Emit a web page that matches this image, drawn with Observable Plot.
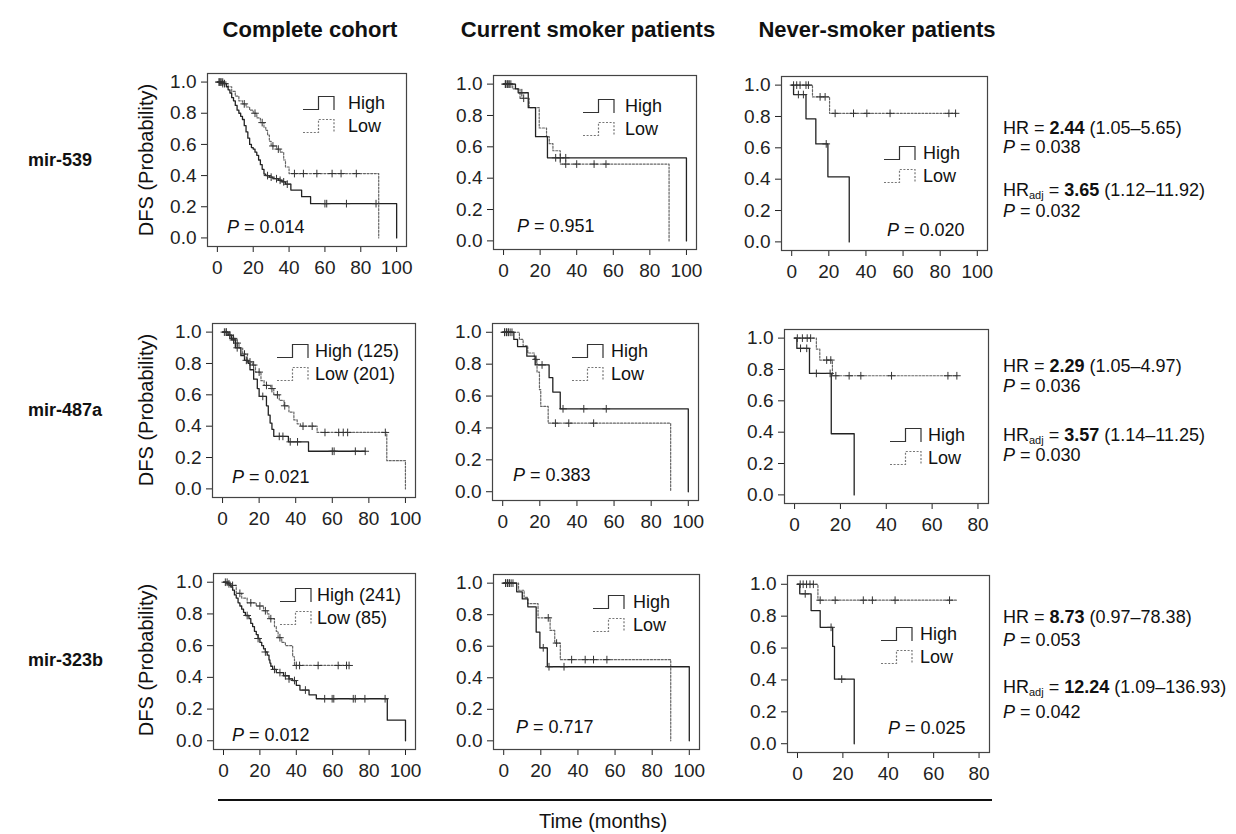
<!DOCTYPE html>
<html><head><meta charset="utf-8">
<script src="https://cdn.jsdelivr.net/npm/d3@7"></script>
<script src="https://cdn.jsdelivr.net/npm/@observablehq/plot@0.6"></script>
<style>
body{margin:0;background:#fff;font-family:"Liberation Sans",Arial,sans-serif;color:#111}
#root{position:relative;width:1236px;height:834px;overflow:hidden;background:#fff}
.abs{position:absolute;white-space:nowrap;line-height:1}
.vc{transform:translateY(-50%)}
.title{font-weight:bold;font-size:22px;transform:translate(-50%,-50%)}
.rowlab{font-weight:bold;font-size:18px}
.ylab{font-size:20px;transform:translate(-50%,-50%) rotate(-90deg)}
.xlab{font-size:20px;transform:translate(-50%,-50%)}
.ptext{font-size:18px}
.stat{font-size:18px}
.stat sub{font-size:11px;vertical-align:baseline;position:relative;top:3px;line-height:0}
.leg{font-size:18px}
</style></head><body><div id="root"></div>
<script>
// ---------- labels ----------
const columnTitles = ["Complete cohort", "Current smoker patients", "Never-smoker patients"];
const rowLabels = ["mir-539", "mir-487a", "mir-323b"];
const yTicks = [0, 0.2, 0.4, 0.6, 0.8, 1.0];
const xTicks100 = [0, 20, 40, 60, 80, 100];
const xTicks80 = [0, 20, 40, 60, 80];
const pValues = [["0.014", "0.951", "0.020"], ["0.021", "0.383", null], ["0.012", "0.717", "0.025"]];
const legendHigh = [["High", "High", "High"], ["High (125)", "High", "High"], ["High (241)", "High", "High"]];
const legendLow = [["Low", "Low", "Low"], ["Low (201)", "Low", "Low"], ["Low (85)", "Low", "Low"]];
const hrValue = ["2.44", "2.29", "8.73"];
const hrCI = ["(1.05–5.65)", "(1.05–4.97)", "(0.97–78.38)"];
const hrP = ["0.038", "0.036", "0.053"];
const hrAdjValue = ["3.65", "3.57", "12.24"];
const hrAdjCI = ["(1.12–11.92)", "(1.14–11.25)", "(1.09–136.93)"];
const hrAdjP = ["0.032", "0.030", "0.042"];

// ---------- Kaplan–Meier curves: [time (months), DFS] step points ----------
// mir-539
const m539AllHigh = [[0,1],[3,0.99],[5,0.97],[6,0.95],[7,0.93],[8,0.9],[9,0.88],[10,0.85],[11,0.82],[12,0.8],[13,0.78],[14,0.76],[15,0.72],[16,0.68],[17,0.64],[18,0.6],[19,0.58],[20,0.57],[21,0.55],[22,0.53],[23,0.5],[24,0.47],[25,0.44],[26,0.41],[27,0.4],[29,0.39],[31,0.38],[34,0.37],[36,0.36],[38,0.345],[41,0.307],[47,0.265],[52,0.22],[100,0]];
const m539AllHighCens = [1,2,3,4,28,30,33,35,37,39,60,61,72,88.5];
const m539AllLow = [[0,1],[4,0.99],[6,0.97],[8,0.94],[10,0.91],[12,0.88],[14,0.86],[16,0.84],[18,0.82],[20,0.8],[22,0.77],[24,0.74],[26,0.71],[27,0.69],[28,0.66],[29,0.62],[30,0.59],[33,0.57],[35,0.55],[37,0.5],[38,0.455],[40,0.413],[90,0]];
const m539AllLowCens = [1,2,3,15,21,25,31,34,43,48,55.5,64,69,77.5];
const m539CurHigh = [[0,1],[6.5,0.97],[8,0.945],[13.5,0.85],[17.5,0.665],[24,0.53],[100,0]];
const m539CurHighCens = [1,2,3,4,10,28.5,31,34];
const m539CurLow = [[0,1],[5,0.97],[9,0.91],[14,0.85],[19.5,0.72],[23.5,0.665],[25,0.62],[27,0.575],[31,0.49],[90.5,0]];
const m539CurLowCens = [1,2,3,11,34,40,49.5,56];
const m539NevHigh = [[0,1],[1,0.94],[7.7,0.785],[13,0.625],[19.5,0.415],[31,0]];
const m539NevHighCens = [3.6,6.3,18.6];
const m539NevLow = [[0,1],[11.2,0.925],[20.4,0.82],[88.6,0.82]];
const m539NevLowCens = [1,2.7,4.5,7.7,9,15.3,18,23.4,33.3,40.5,53,84.7,88.3];
// mir-487a
const m487AllHigh = [[0,1],[3,0.98],[5,0.95],[7,0.9],[10,0.85],[12,0.82],[14,0.8],[15,0.76],[17,0.7],[19,0.64],[20,0.59],[24,0.53],[25,0.47],[26,0.42],[27,0.38],[28,0.335],[36,0.3],[47,0.24],[78,0.24]];
const m487AllHighCens = [1,2,4,6,8,13,22,31,33,37,41,60,61,72.6,78];
const m487AllLow = [[0,1],[3,0.98],[5,0.96],[7,0.93],[9,0.9],[11,0.86],[13.6,0.81],[16.3,0.79],[18,0.745],[21,0.69],[22.7,0.66],[26.3,0.64],[28,0.6],[31,0.565],[33.6,0.53],[36.3,0.49],[39,0.44],[40.8,0.415],[42.6,0.4],[51.7,0.36],[89.8,0.18],[100,0]];
const m487AllLowCens = [2,4,6,8,12,15,17,20,24,27,30,34,44,49,56,63.5,66,68.4,89];
const m487CurHigh = [[0,1],[6,0.955],[8,0.91],[13,0.85],[17.5,0.795],[25,0.715],[27,0.625],[31,0.52],[100,0]];
const m487CurHighCens = [1,2,3,4,5,21.2,32.5,43.7,55.8];
const m487CurLow = [[0,1],[9,0.955],[11,0.915],[13.5,0.87],[17,0.83],[18.5,0.75],[19.8,0.64],[20.5,0.535],[24.5,0.43],[90.5,0]];
const m487CurLowCens = [1,2,3,18,28.4,35.6,49];
const m487NevHigh = [[0,1],[1,0.935],[6.5,0.775],[16,0.39],[26,0]];
const m487NevHighCens = [2.6,5.3,9.5,15.5];
const m487NevLow = [[0,1],[9.5,0.93],[11,0.86],[16.5,0.76],[71,0.76]];
const m487NevLowCens = [1.2,3.4,5.5,7,14,15.8,18,23.8,28.9,42.3,66.9,70.8];
// mir-323b
const m323AllHigh = [[0,1],[2,0.99],[4,0.97],[5,0.95],[6,0.92],[7,0.9],[8,0.87],[9,0.85],[10,0.83],[11,0.81],[12,0.79],[14,0.77],[15,0.74],[16,0.72],[17,0.69],[18,0.67],[19,0.645],[20,0.62],[21,0.6],[22,0.58],[23,0.56],[24,0.54],[25,0.51],[25.5,0.49],[26,0.47],[27,0.45],[29,0.43],[33,0.41],[36,0.39],[38,0.38],[40,0.35],[42,0.32],[47,0.29],[51,0.265],[90,0.13],[100,0]];
const m323AllHighCens = [1,3,13,19,23,28,31,34,36,39,45,55.6,59.7,60.6,71.3,72.4,77.7,88.8];
const m323AllLow = [[0,1],[3,0.98],[7,0.93],[10,0.9],[13,0.87],[18,0.85],[22,0.82],[24,0.8],[25,0.77],[28,0.72],[29,0.69],[30,0.65],[32,0.62],[34,0.6],[38,0.53],[39,0.475],[69,0.475]];
const m323AllLowCens = [2,5,9,15,20,23,26,31,40,41.8,52,63,67.6,69];
const m323CurHigh = [[0,1],[7,0.945],[10,0.9],[13,0.85],[17.5,0.69],[19.5,0.59],[23.5,0.47],[100,0]];
const m323CurHighCens = [1,2,3,4,21.3,24.4,32.5];
const m323CurLow = [[0,1],[8,0.955],[11,0.91],[13,0.87],[18.5,0.78],[25,0.7],[27.5,0.62],[30.5,0.515],[90,0]];
const m323CurLowCens = [1,2,3,5,24,28.5,36.6,43.9,48.4,55.6];
const m323NevHigh = [[0,1],[1,0.94],[6,0.835],[10,0.73],[15.5,0.61],[16.3,0.405],[25,0]];
const m323NevHighCens = [3.4,14.8,19.5];
const m323NevLow = [[0,1],[9,0.9],[70.5,0.9]];
const m323NevLowCens = [1.2,2.5,4,5.5,7,10,16.6,29,33,43,67];

// ---------- layout ----------
const root = document.getElementById("root");
const FONT = '"Liberation Sans", Arial, sans-serif';
function addDiv(cls, html, left, top) {
  const d = document.createElement("div");
  d.className = "abs " + cls;
  d.innerHTML = html;
  d.style.left = left + "px";
  d.style.top = top + "px";
  root.appendChild(d);
  return d;
}
const toRows = (c) => c.map(([t, s]) => ({t, s}));
const survAt = (curve, t) => { let s = 1; for (const [ti, si] of curve) { if (ti <= t) s = si; else break; } return s; };
const censRows = (curve, cens) => cens.map(t => ({t, s: survAt(curve, t)}));

const panels = [
  {r:0,c:0,high:m539AllHigh,hc:m539AllHighCens,low:m539AllLow,lc:m539AllLowCens,box:[207,73,406,246],x80:false,leg:[303,96,45],p:[227,227]},
  {r:0,c:1,high:m539CurHigh,hc:m539CurHighCens,low:m539CurLow,lc:m539CurLowCens,box:[493,75,696,249],x80:false,leg:[583,99,42],p:[517,226]},
  {r:0,c:2,high:m539NevHigh,hc:m539NevHighCens,low:m539NevLow,lc:m539NevLowCens,box:[781,76,987,250],x80:false,leg:[884,146,39],p:[887,230]},
  {r:1,c:0,high:m487AllHigh,hc:m487AllHighCens,low:m487AllLow,lc:m487AllLowCens,box:[212,323,415,497],x80:false,leg:[277,344,38],p:[232,477]},
  {r:1,c:1,high:m487CurHigh,hc:m487CurHighCens,low:m487CurLow,lc:m487CurLowCens,box:[492,323,698,500],x80:false,leg:[572,344,39],p:[513,475]},
  {r:1,c:2,high:m487NevHigh,hc:m487NevHighCens,low:m487NevLow,lc:m487NevLowCens,box:[784,329,988,503],x80:true,leg:[890,428,38],p:null},
  {r:2,c:0,high:m323AllHigh,hc:m323AllHighCens,low:m323AllLow,lc:m323AllLowCens,box:[213,573,415,749],x80:false,leg:[280,588,37],p:[232,735]},
  {r:2,c:1,high:m323CurHigh,hc:m323CurHighCens,low:m323CurLow,lc:m323CurLowCens,box:[493,574,699,749],x80:false,leg:[593,595,40],p:[516,727]},
  {r:2,c:2,high:m323NevHigh,hc:m323NevHighCens,low:m323NevLow,lc:m323NevLowCens,box:[787,575,989,752],x80:true,leg:[881,627,39],p:[888,728]}
];

const ml = 60, mr = 20, mt = 10, mb = 40;
for (const P of panels) {
  const [L, T, R, B] = P.box;
  const bw = R - L, bh = B - T;
  const cens = [...censRows(P.high, P.hc), ...censRows(P.low, P.lc)];
  const chart = Plot.plot({
    width: bw + ml + mr, height: bh + mt + mb,
    marginLeft: ml, marginRight: mr, marginTop: mt, marginBottom: mb,
    style: {fontFamily: FONT, fontSize: "19px", color: "#222", background: "transparent", overflow: "visible"},
    x: {domain: P.x80 ? [-4.4, 84.6] : [-5.5, 105.5], ticks: P.x80 ? xTicks80 : xTicks100, tickSize: 6, tickPadding: 8, label: null},
    y: {domain: [-0.055, 1.055], ticks: yTicks, tickFormat: d3.format(".1f"), tickSize: 6, tickPadding: 5, label: null},
    marks: [
      Plot.frame({stroke: "#444", strokeWidth: 1.2}),
      Plot.line(toRows(P.low), {x: "t", y: "s", curve: "step-after", stroke: "#666", strokeWidth: 1.2, strokeDasharray: "2,1.6"}),
      Plot.line(toRows(P.high), {x: "t", y: "s", curve: "step-after", stroke: "#222", strokeWidth: 1.3}),
      Plot.dot(cens, {x: "t", y: "s", symbol: "plus", r: 2.6, stroke: "#333", strokeWidth: 1})
    ]
  });
  chart.style.position = "absolute";
  chart.style.left = (L - ml) + "px";
  chart.style.top = (T - mt) + "px";
  root.appendChild(chart);

  // legend
  const [gx, gy, tOff] = P.leg;
  const glyph = (dash) => `<svg width="34" height="16" style="position:absolute;left:0;top:0;overflow:visible"><path d="M0,13.5H15.5V0.5H31V14" fill="none" stroke="${dash ? '#777' : '#333'}" stroke-width="1.2" ${dash ? 'stroke-dasharray="2,1.6"' : ''}/></svg>`;
  const rowsL = [[legendHigh[P.r][P.c], false, 0], [legendLow[P.r][P.c], true, 23]];
  for (const [txt, dash, off] of rowsL) {
    addDiv("", glyph(dash), gx, gy + off).style.width = "34px";
    addDiv("leg vc", txt, gx + tOff, gy + off + 7);
  }
  if (P.p) addDiv("ptext vc", `<i>P</i> = ${pValues[P.r][P.c]}`, P.p[0], P.p[1]);
}

// column titles
const titleX = [310, 588, 877];
columnTitles.forEach((t, i) => addDiv("title", t, titleX[i], 30));
// row labels and y axis labels
const rowY = [160, 410, 660];
rowLabels.forEach((t, i) => {
  addDiv("rowlab vc", t, 28, rowY[i]);
  addDiv("ylab", "DFS (Probability)", 146, rowY[i]);
});
// hazard ratio statistics
const statY = [[128, 147, 190, 211], [366, 386, 435, 455], [617, 640, 687, 712]];
statY.forEach((ys, i) => {
  addDiv("stat vc", `HR = <b>${hrValue[i]}</b> ${hrCI[i]}`, 1003, ys[0]);
  addDiv("stat vc", `<i>P</i> = ${hrP[i]}`, 1003, ys[1]);
  addDiv("stat vc", `HR<sub>adj</sub> = <b>${hrAdjValue[i]}</b> ${hrAdjCI[i]}`, 1003, ys[2]);
  addDiv("stat vc", `<i>P</i> = ${hrAdjP[i]}`, 1003, ys[3]);
});
// shared x-axis title with rule
const rule = document.createElement("div");
rule.className = "abs";
Object.assign(rule.style, {left: "218px", top: "799px", width: "774px", height: "2px", background: "#111"});
root.appendChild(rule);
addDiv("xlab", "Time (months)", 603, 821);
</script>
</body></html>
